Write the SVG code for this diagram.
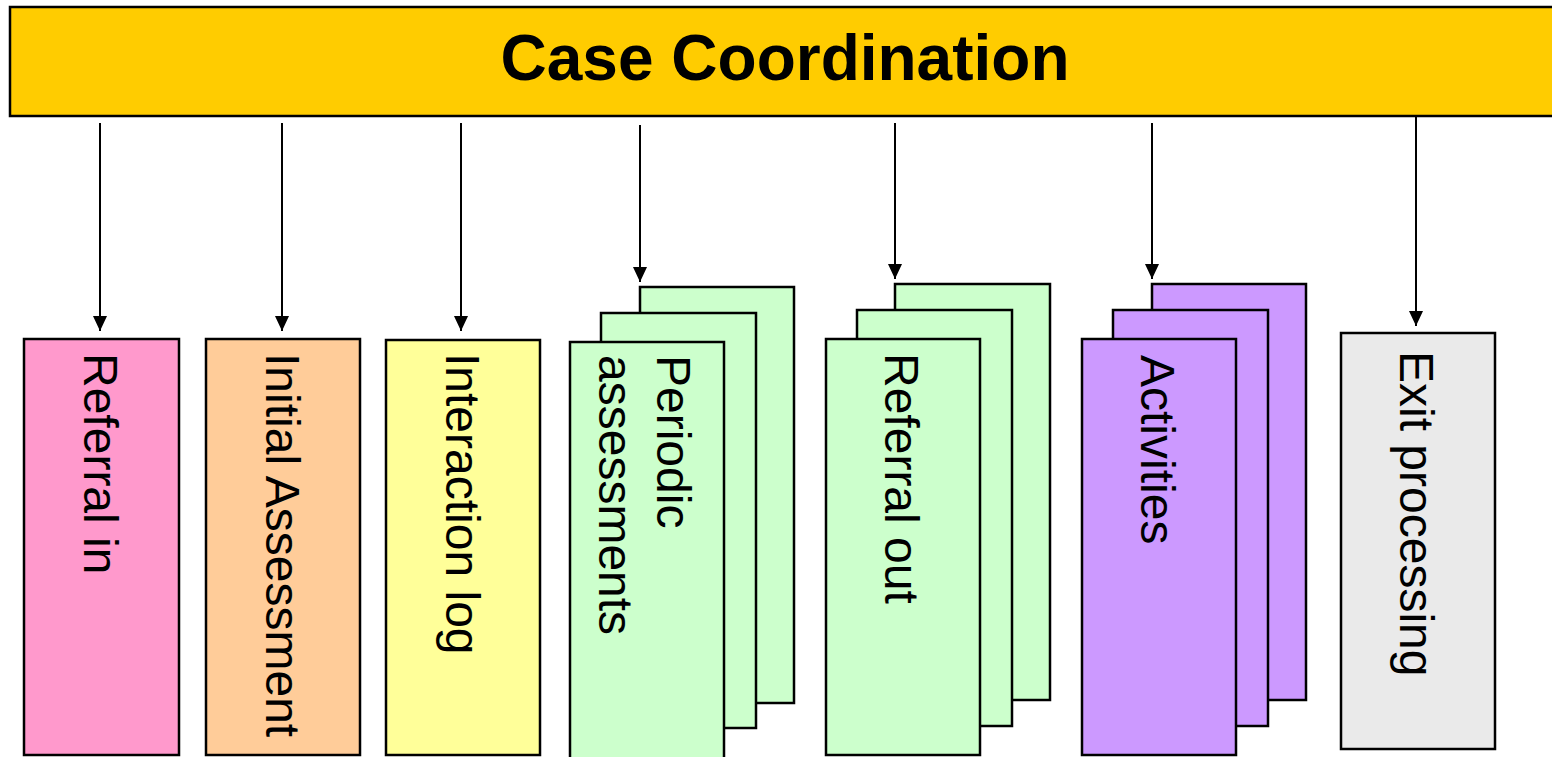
<svg xmlns="http://www.w3.org/2000/svg" width="1552" height="757" viewBox="0 0 1552 757">
  <style>
    .box { stroke: #000; stroke-width: 2.5; }
    .lbl { font-family: "Liberation Sans", Arial, sans-serif; font-size: 48px; fill: #000; }
    .title { font-family: "Liberation Sans", Arial, sans-serif; font-size: 64px; font-weight: bold; fill: #000; }
    .conn { stroke: #000; stroke-width: 2; fill: none; marker-end: url(#arrow); }
    .pink { fill: #FF99CC; }
    .peach { fill: #FFCC99; }
    .yellow { fill: #FFFF99; }
    .green { fill: #CCFFCC; }
    .purple { fill: #CC99FF; }
    .grey { fill: #EAEAEA; }
  </style>
  <defs>
    <!-- filled triangular arrowhead, tip at the line end -->
    <marker id="arrow" markerWidth="15" markerHeight="14" refX="15" refY="7" orient="auto" markerUnits="userSpaceOnUse" viewBox="0 0 15 14">
      <path d="M0,0 L15,7 L0,14 Z" fill="#000"/>
    </marker>
  </defs>

  <g id="case-coordination">
    <rect x="10" y="7" width="1560" height="109" fill="#FFCC00" stroke="#000" stroke-width="2.5"/>
    <text class="title" x="785" y="80" text-anchor="middle">Case Coordination</text>
  </g>

  <g id="connectors">
    <line class="conn" x1="100" y1="123" x2="100" y2="331"/>
    <line class="conn" x1="282" y1="123" x2="282" y2="331"/>
    <line class="conn" x1="461" y1="123" x2="461" y2="331"/>
    <line class="conn" x1="640" y1="125" x2="640" y2="282"/>
    <line class="conn" x1="895" y1="123" x2="895" y2="279"/>
    <line class="conn" x1="1152" y1="123" x2="1152" y2="279"/>
    <line class="conn" x1="1416" y1="117" x2="1416" y2="326"/>
  </g>

  <g id="referral-in">
    <rect class="box pink" x="24" y="339" width="155" height="416"/>
    <text class="lbl" transform="translate(84,353) rotate(90)">Referral in</text>
  </g>

  <g id="initial-assessment">
    <rect class="box peach" x="206" y="339" width="154" height="416"/>
    <text class="lbl" transform="translate(266,353) rotate(90)">Initial Assessment</text>
  </g>

  <g id="interaction-log">
    <rect class="box yellow" x="386" y="340" width="154" height="415"/>
    <text class="lbl" transform="translate(446,353) rotate(90)">Interaction log</text>
  </g>

  <g id="periodic-assessments">
    <rect class="box green" x="640" y="287" width="154" height="416"/>
    <rect class="box green" x="601" y="313" width="155" height="415"/>
    <rect class="box green" x="570" y="342" width="154" height="420"/>
    <text class="lbl" transform="translate(657,355) rotate(90)">Periodic</text>
    <text class="lbl" transform="translate(599,355) rotate(90)">assessments</text>
  </g>

  <g id="referral-out">
    <rect class="box green" x="895" y="284" width="155" height="416"/>
    <rect class="box green" x="857" y="310" width="155" height="416"/>
    <rect class="box green" x="826" y="339" width="154" height="416"/>
    <text class="lbl" transform="translate(885,353) rotate(90)">Referral out</text>
  </g>

  <g id="activities">
    <rect class="box purple" x="1152" y="284" width="154" height="416"/>
    <rect class="box purple" x="1113" y="310" width="155" height="416"/>
    <rect class="box purple" x="1082" y="339" width="154" height="416"/>
    <text class="lbl" transform="translate(1141,355) rotate(90)">Activities</text>
  </g>

  <g id="exit-processing">
    <rect class="box grey" x="1341" y="333" width="154" height="416"/>
    <text class="lbl" transform="translate(1400,351) rotate(90)">Exit processing</text>
  </g>
</svg>
